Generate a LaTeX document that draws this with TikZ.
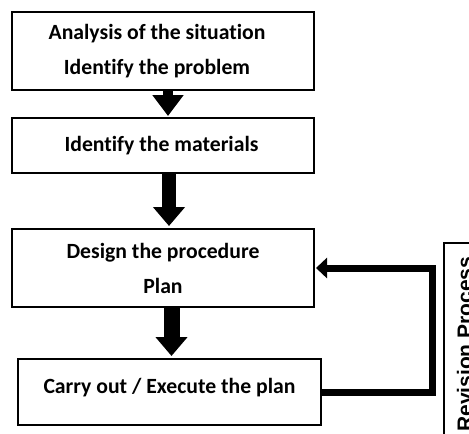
\documentclass[tikz,border=0pt]{standalone}
\usepackage{fontspec}
\setmainfont{Carlito}[Ligatures={NoCommon}]
\newfontfamily\revfont{Liberation Sans}
\usetikzlibrary{arrows.meta}
\begin{document}
\begin{tikzpicture}[x=1pt,y=-1pt,
  box/.style={draw, line width=2pt, rectangle, inner sep=0pt, align=center,
    font=\fontsize{21.7pt}{35pt}\selectfont\bfseries},
  blockarrow/.style={draw=black, line join=miter}
]
\useasboundingbox (0,0) rectangle (469,434);
\clip (0,0) rectangle (469,434);
\fill[white] (0,0) rectangle (469,434);

\node[box, minimum width=302pt, minimum height=78pt] (b1) at (163,51)
  {Analysis of the situation\hspace*{12pt}\\Identify the problem\hspace*{12pt}};
\node[box, minimum width=302pt, minimum height=55pt] (b2) at (163,145.5)
  {Identify the materials\hspace*{3pt}};
\node[box, minimum width=302pt, minimum height=78pt] (b3) at (163,268)
  {Design the procedure\\Plan};
\node[box, minimum width=303pt, minimum height=66pt] (b4) at (169.5,392)
  {Carry out / Execute the plan\rule[-12pt]{0pt}{0pt}};

\node[draw, line width=1.7pt, minimum width=56pt, minimum height=217pt, inner sep=0pt] (rev) at (472,351.5) {};
\node[rotate=90, anchor=base west, inner sep=0pt, font=\revfont\fontsize{21pt}{25pt}\selectfont\bfseries] (revtext) at (472,432) {Revision Process};

\draw[blockarrow, line width=10pt, -{Triangle[length=21pt,width=30pt]}, shorten >=1pt]
  ([xshift=5pt]b1.south) -- ([xshift=5pt]b2.north);
\draw[blockarrow, line width=14pt, -{Triangle[length=19pt,width=31pt]}, shorten >=2pt]
  ([xshift=6pt]b2.south) -- ([xshift=6pt]b3.north);
\draw[blockarrow, line width=16pt, -{Triangle[length=19pt,width=31pt]}, shorten >=2pt]
  ([xshift=8.5pt]b3.south) -- ([xshift=2pt]b4.north);

\coordinate (fb) at (432.5,330);
\draw[blockarrow, line width=7pt, -{Triangle[length=11pt,width=20pt]}, shorten >=1pt]
  (b4.east) -| (fb) |- (b3.east);
\end{tikzpicture}
\end{document}
